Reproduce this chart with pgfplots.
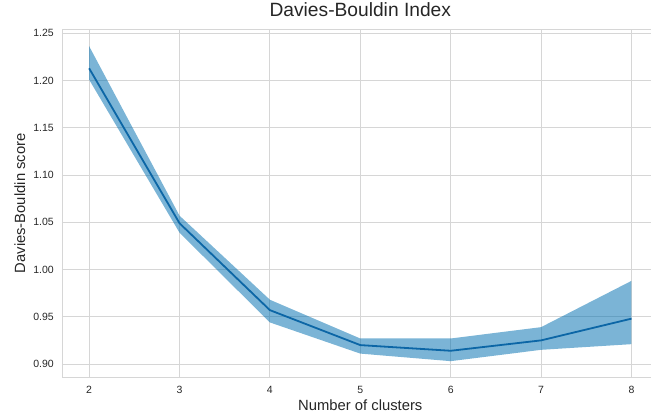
\documentclass[border=0pt]{standalone}
\usepackage{pgfplots}
\pgfplotsset{compat=1.18}
\usepgfplotslibrary{fillbetween}
\usepackage{fontspec}
\setmainfont{Liberation Sans}
\definecolor{txt}{HTML}{262626}
\definecolor{gridc}{HTML}{D6D6D6}
\definecolor{linec}{RGB}{12,102,166}
\definecolor{bandc}{RGB}{1,112,176}
\begin{document}
\begin{tikzpicture}
\begin{axis}[
  at={(0,0)}, anchor=south west,
  scale only axis, width=596.6pt, height=348.7pt,
  xmin=1.7, xmax=8.3, ymin=0.8855, ymax=1.2546,
  xtick={2,3,4,5,6,7,8},
  ytick={0.90,0.95,1.00,1.05,1.10,1.15,1.20,1.25},
  y tick label style={/pgf/number format/fixed, /pgf/number format/fixed zerofill, /pgf/number format/precision=2},
  /pgf/number format/assume math mode=true,
  tick style={draw=none},
  major tick length=0pt,
  grid=major,
  grid style={gridc, line width=0.9pt},
  axis line style={gridc, line width=0.9pt},
  ticklabel style={font=\fontsize{10.5}{12}\selectfont, text=txt},
  xticklabel style={anchor=base, yshift=-16.3pt},
  yticklabel style={anchor=east, inner sep=0pt, xshift=-8pt},
  title={Davies-Bouldin Index},
  title style={font=\fontsize{19.2}{22}\selectfont, text=txt, at={(axis description cs:0.5,1.0172)}, anchor=base},
  xlabel={Number of clusters},
  xlabel style={font=\fontsize{14.8}{17}\selectfont, text=txt, at={(axis description cs:0.5,-0.0946)}, anchor=base},
  ylabel={Davies-Bouldin score},
  ylabel style={font=\fontsize{14.8}{17}\selectfont, text=txt, at={(axis description cs:-0.062,0.5)}, anchor=base},
  clip=true,
]
\addplot[name path=upper, draw=none, forget plot] coordinates {
  (2,1.2364) (3,1.057) (4,0.968) (5,0.927) (6,0.927) (7,0.939) (8,0.988)
};
\addplot[name path=lower, draw=none, forget plot] coordinates {
  (2,1.201) (3,1.039) (4,0.944) (5,0.911) (6,0.903) (7,0.915) (8,0.921)
};
\addplot[bandc, fill opacity=0.52, draw=none] fill between[of=upper and lower];
\addplot[linec, line width=1.8pt] coordinates {
  (2,1.213) (3,1.049) (4,0.957) (5,0.920) (6,0.914) (7,0.925) (8,0.948)
};
\end{axis}
\pgfresetboundingbox
\path[use as bounding box] (-62pt,-36.3pt) rectangle (589pt,377.7pt);
\end{tikzpicture}
\end{document}
